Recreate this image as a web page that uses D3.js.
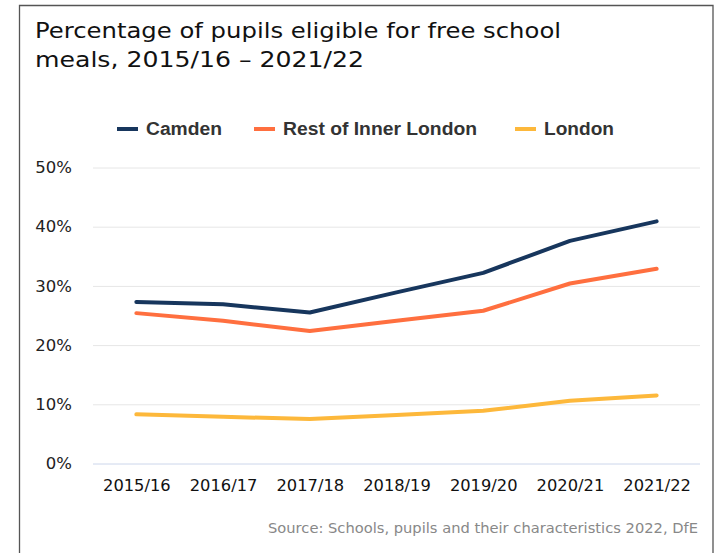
<!DOCTYPE html>
<html>
<head>
<meta charset="utf-8">
<script src="https://cdn.jsdelivr.net/npm/d3@7"></script>
<style>
  html, body { margin: 0; padding: 0; background: #fff; }
  svg { display: block; }
</style>
</head>
<body>
<svg id="chart" width="715" height="553"></svg>
<script>
// ---- data ----
const categories = ["2015/16", "2016/17", "2017/18", "2018/19", "2019/20", "2020/21", "2021/22"];
const seriesNames = ["Camden", "Rest of Inner London", "London"];
const camden = [27.3, 26.9, 25.5, 28.9, 32.2, 37.6, 40.9];
const restOfInnerLondon = [25.4, 24.1, 22.4, 24.1, 25.8, 30.4, 32.9];
const london = [8.3, 7.9, 7.5, 8.2, 8.9, 10.6, 11.5];
const yTicks = [0, 10, 20, 30, 40, 50];
const titleLines = ["Percentage of pupils eligible for free school", "meals, 2015/16 \u2013 2021/22"];
const sourceText = "Source: Schools, pupils and their characteristics 2022, DfE";

// ---- layout ----
const colors = ["#17365d", "#ff6f3f", "#fdb83b"];
const plot = { left: 93, right: 700, top: 167.5, bottom: 463.5 };
const svg = d3.select("#chart");

function fit(sel, w) {
  const n = sel.node();
  const len = n.getComputedTextLength();
  if (Math.abs(len - w) > 1) sel.attr("textLength", w).attr("lengthAdjust", "spacingAndGlyphs");
}

// frame
svg.append("path")
  .attr("d", "M19.5,560 V5.5 H713 V560")
  .attr("fill", "none").attr("stroke", "#555").attr("stroke-width", 1.3);

// title
const titleFont = "'DejaVu Sans', sans-serif";
const tW = [526, 329];
titleLines.forEach((t, i) => {
  const s = svg.append("text").attr("x", 35).attr("y", 38 + i * 29)
    .attr("font-family", titleFont).attr("font-size", 22).attr("fill", "#111").text(t);
  fit(s, tW[i]);
});

// scales
const x = d3.scalePoint().domain(categories).range([plot.left, plot.right]).padding(0.5);
const y = d3.scaleLinear().domain([0, 50]).range([plot.bottom, plot.top]);

// y axis with grid
const yAxis = svg.append("g").attr("transform", `translate(${plot.left},0)`)
  .call(d3.axisLeft(y).tickValues(yTicks).tickFormat(d => d + "%")
    .tickSize(-(plot.right - plot.left)).tickPadding(21));
yAxis.select(".domain").remove();
yAxis.selectAll(".tick line").attr("stroke", d => d === 0 ? "#ccd6eb" : "#e6e6e6").attr("stroke-width", 1);
yAxis.selectAll(".tick text").attr("font-family", "'DejaVu Sans', sans-serif")
  .attr("font-size", 16.5).attr("fill", "#222");

// x axis
const xAxis = svg.append("g").attr("transform", `translate(0,${plot.bottom})`)
  .call(d3.axisBottom(x).tickSize(0).tickPadding(16));
xAxis.select(".domain").remove();
xAxis.selectAll(".tick text").attr("font-family", "'DejaVu Sans', sans-serif")
  .attr("font-size", 16.3).attr("fill", "#111");

// lines
const allSeries = [camden, restOfInnerLondon, london];
const line = d3.line().x((d, i) => x(categories[i])).y(d => y(d));
allSeries.slice().reverse().forEach((vals, ri) => {
  const i = allSeries.length - 1 - ri;
  svg.append("path").datum(vals).attr("d", line)
    .attr("fill", "none").attr("stroke", colors[i]).attr("stroke-width", 4)
    .attr("stroke-linecap", "round").attr("stroke-linejoin", "round");
});

// legend
const legendItems = [
  { sx: 117, tx: 146, w: 76 },
  { sx: 254, tx: 283, w: 194 },
  { sx: 515, tx: 544, w: 70 }
];
seriesNames.forEach((name, i) => {
  const it = legendItems[i];
  svg.append("line").attr("x1", it.sx).attr("x2", it.sx + 21).attr("y1", 129).attr("y2", 129)
    .attr("stroke", colors[i]).attr("stroke-width", 4);
  const s = svg.append("text").attr("x", it.tx).attr("y", 135)
    .attr("font-family", "'Liberation Sans', Arial, sans-serif").attr("font-weight", "bold")
    .attr("font-size", 18).attr("fill", "#333").text(name);
  fit(s, it.w);
});

// source
const src = svg.append("text").attr("x", 698).attr("y", 533).attr("text-anchor", "end")
  .attr("font-family", "'DejaVu Sans', sans-serif").attr("font-size", 14).attr("fill", "#888")
  .text(sourceText);
fit(src, 430);
</script>
</body>
</html>
